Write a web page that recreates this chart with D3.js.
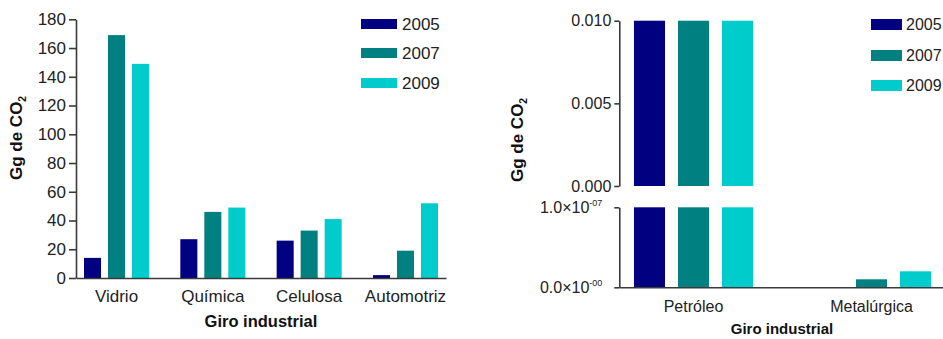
<!DOCTYPE html>
<html>
<head>
<meta charset="utf-8">
<script src="https://cdn.jsdelivr.net/npm/d3@7"></script>
<style>
  html, body { margin: 0; padding: 0; background: #fff; }
  svg { display: block; font-family: Arial, "Liberation Sans", sans-serif; }
</style>
</head>
<body>
<svg id="chart" width="943" height="339"></svg>
<script>
// Emisiones de CO2 por giro industrial (Gg de CO2)
const years = ["2005", "2007", "2009"];
const colors = ["#000080", "#008080", "#00cccc"];

// Panel izquierdo
const catsA = ["Vidrio", "Química", "Celulosa", "Automotriz"];
const valsA2005 = [14, 27, 26, 2];
const valsA2007 = [169, 46, 33, 19];
const valsA2009 = [149, 49, 41, 52];
const ticksA = [0, 20, 40, 60, 80, 100, 120, 140, 160, 180];

// Panel derecho (eje segmentado)
const catsB = ["Petróleo", "Metalúrgica"];
const valsB2005 = [0.010, 0];
const valsB2007 = [0.010, 1.0e-8];
const valsB2009 = [0.010, 2.0e-8];
const ticksBTop = [0.000, 0.005, 0.010];
const ticksBBottom = [0, 1e-7];
const ticksBBottomLabels = [["0.0×10", "-00"], ["1.0×10", "-07"]];

const axisColor = "#3a3a3a";
const textColor = "#222";

const svg = d3.select("#chart");

function rows(cats, a, b, c) {
  return cats.map((cat, i) => ({ cat, values: [a[i], b[i], c[i]] }));
}

function styleAxis(g) {
  g.selectAll("path, line").attr("stroke", axisColor).attr("stroke-width", 1.6);
  g.selectAll("text").attr("fill", textColor);
}

function yTitle(x, y, size) {
  const t = svg.append("text")
    .attr("transform", `translate(${x},${y}) rotate(-90)`)
    .attr("text-anchor", "middle")
    .attr("font-weight", "bold")
    .attr("font-size", size)
    .attr("fill", "#111");
  t.append("tspan").text("Gg de CO");
  t.append("tspan").attr("font-size", size * 0.6).attr("dy", 4).text("2");
}

function legend(x, yTops, w, h, tx, size) {
  years.forEach((yr, i) => {
    svg.append("rect").attr("x", x).attr("y", yTops[i]).attr("width", w).attr("height", h)
      .attr("fill", colors[i]);
    svg.append("text").attr("x", tx).attr("y", yTops[i] + h / 2)
      .attr("dy", "0.36em").attr("font-size", size).attr("fill", textColor).text(yr);
  });
}

// ---------- Panel izquierdo ----------
(function () {
  const data = rows(catsA, valsA2005, valsA2007, valsA2009);
  const x0 = d3.scaleBand().domain(catsA).range([76, 446]).paddingInner(0.325).paddingOuter(0.083);
  const x1 = d3.scaleBand().domain(years).range([0, x0.bandwidth()]).paddingInner(0.29);
  const y = d3.scaleLinear().domain([0, 180]).range([278, 19.3]);

  svg.append("g").selectAll("g").data(data).join("g")
    .attr("transform", d => `translate(${x0(d.cat)},0)`)
    .selectAll("rect").data(d => d.values.map((v, i) => ({ v, i }))).join("rect")
    .attr("x", d => x1(years[d.i]))
    .attr("width", x1.bandwidth())
    .attr("y", d => y(d.v))
    .attr("height", d => y(0) - y(d.v))
    .attr("fill", d => colors[d.i]);

  const ya = svg.append("g").attr("transform", "translate(76,0)")
    .call(d3.axisLeft(y).tickValues(ticksA).tickSize(7).tickSizeOuter(0).tickPadding(3));
  ya.attr("font-size", 17).attr("font-family", null);
  styleAxis(ya);

  const xa = svg.append("g").attr("transform", "translate(0,278)")
    .call(d3.axisBottom(x0).tickSize(0).tickSizeOuter(0));
  xa.attr("font-size", 17).attr("font-family", null);
  xa.selectAll("text").attr("y", 24).attr("dy", null);
  styleAxis(xa);

  yTitle(22, 138, 17);
  svg.append("text").attr("x", 261).attr("y", 327).attr("text-anchor", "middle")
    .attr("font-weight", "bold").attr("font-size", 16.5).attr("fill", "#111").text("Giro industrial");

  legend(361, [19, 48, 78], 36, 10, 402, 17);
})();

// ---------- Panel derecho ----------
(function () {
  const data = rows(catsB, valsB2005, valsB2007, valsB2009);
  const x0 = d3.scaleBand().domain(catsB).range([619, 946]).paddingInner(0.331).paddingOuter(0.084);
  const x1 = d3.scaleBand().domain(years).range([0, x0.bandwidth()]).paddingInner(0.295);
  const yTop = d3.scaleLinear().domain([0, 0.010]).range([186, 20.7]).clamp(true);
  const yBot = d3.scaleLinear().domain([0, 1e-7]).range([287.3, 207.3]).clamp(true);

  [yTop, yBot].forEach(sc => {
    svg.append("g").selectAll("g").data(data).join("g")
      .attr("transform", d => `translate(${x0(d.cat)},0)`)
      .selectAll("rect").data(d => d.values.map((v, i) => ({ v, i })).filter(d => sc(d.v) < sc(0))).join("rect")
      .attr("x", d => x1(years[d.i]))
      .attr("width", x1.bandwidth())
      .attr("y", d => sc(d.v))
      .attr("height", d => sc(0) - sc(d.v))
      .attr("fill", d => colors[d.i]);
  });

  const yt = svg.append("g").attr("transform", "translate(619.3,0)")
    .call(d3.axisLeft(yTop).tickValues(ticksBTop).tickFormat(d3.format(".3f")).tickSize(5).tickSizeOuter(0).tickPadding(3));
  yt.attr("font-size", 16).attr("font-family", null);
  styleAxis(yt);

  const yb = svg.append("g").attr("transform", "translate(619.3,0)")
    .call(d3.axisLeft(yBot).tickValues(ticksBBottom).tickSize(5).tickSizeOuter(0).tickPadding(12));
  yb.attr("font-size", 16).attr("font-family", null);
  yb.selectAll(".tick text").each(function (d, i) {
    const t = d3.select(this).text(null);
    t.append("tspan").text(ticksBBottomLabels[i][0]);
    t.append("tspan").attr("font-size", 9).attr("dy", -7).text(ticksBBottomLabels[i][1]);
  });
  styleAxis(yb);

  const xa = svg.append("g").attr("transform", "translate(0,287.3)")
    .call(d3.axisBottom(x0).tickSize(0).tickSizeOuter(0));
  xa.attr("font-size", 16).attr("font-family", null);
  xa.selectAll("text").attr("y", 25).attr("dy", null);
  styleAxis(xa);

  yTitle(523, 140, 17);
  svg.append("text").attr("x", 782).attr("y", 334).attr("text-anchor", "middle")
    .attr("font-weight", "bold").attr("font-size", 15).attr("fill", "#111").text("Giro industrial");

  legend(871, [19, 50, 80], 31, 11, 906, 16);
})();
</script>
</body>
</html>
